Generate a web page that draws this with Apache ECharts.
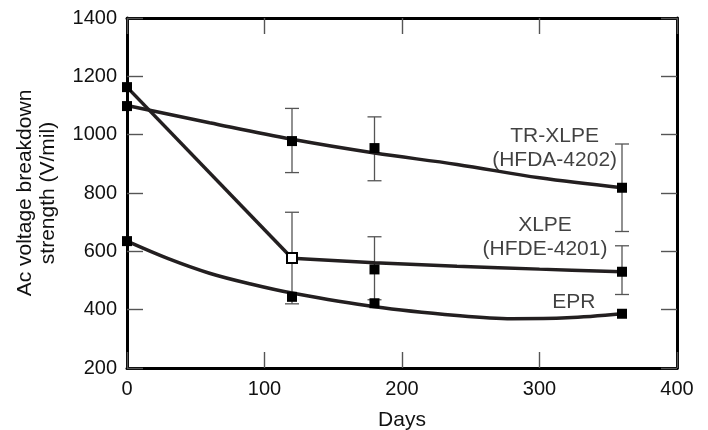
<!DOCTYPE html>
<html>
<head>
<meta charset="utf-8">
<script src="https://cdn.jsdelivr.net/npm/echarts@6/dist/echarts.min.js"></script>
<style>
html,body{margin:0;padding:0;background:#fff;}
#chart{width:708px;height:430px;}
</style>
</head>
<body>
<div id="chart"></div>
<script>
// ---- data ----
var trxlpeMarkers = [[0, 1098], [120, 978], [180, 954], [360, 818]];
var trxlpeCurve = [[0, 1100], [60, 1041], [120, 984], [180, 937], [240, 898], [300, 852], [360, 818]];
var trxlpeErr = [[120, 870, 1090], [180, 842, 1061], [360, 668, 968]];

var xlpeMarkers = [[0, 1163], [180, 538], [360, 530]];
var xlpeOpen = [[120, 577]];
var xlpeDrop = [[0, 1163], [120, 576]];
var xlpeCurve = [[120, 576], [180, 561], [240, 549], [300, 539], [360, 530]];
var xlpeErr = [[120, 420, 734], [180, 434, 650], [360, 452, 619]];

var eprMarkers = [[0, 635], [120, 444], [180, 422], [360, 386]];
var eprCurve = [[0, 635], [30, 575], [60, 525], [90, 488], [120, 457], [180, 410], [240, 380], [280, 369], [320, 372], [360, 386]];

var seriesLabels = [
  {text: 'TR-XLPE\n(HFDA-4202)', at: [311, 955]},
  {text: 'XLPE\n(HFDE-4201)', at: [304, 647]},
  {text: 'EPR', at: [325, 424]}
];

var xTicks = [0, 100, 200, 300, 400];
var yTicks = [200, 400, 600, 800, 1000, 1200, 1400];

// ---- chart ----
var FONT = 'Liberation Sans, Arial, Helvetica, sans-serif';
var chart = echarts.init(document.getElementById('chart'), null, {renderer: 'canvas'});

function errSeries(data) {
  return {
    type: 'custom',
    data: data,
    z: 2,
    renderItem: function (params, api) {
      var x = api.value(0);
      var lo = api.coord([x, api.value(1)]);
      var hi = api.coord([x, api.value(2)]);
      var hw = 7;
      var st = {stroke: '#555', lineWidth: 1.3};
      return {
        type: 'group',
        children: [
          {type: 'line', shape: {x1: lo[0], y1: lo[1], x2: hi[0], y2: hi[1]}, style: st},
          {type: 'line', shape: {x1: lo[0] - hw, y1: lo[1], x2: lo[0] + hw, y2: lo[1]}, style: st},
          {type: 'line', shape: {x1: hi[0] - hw, y1: hi[1], x2: hi[0] + hw, y2: hi[1]}, style: st}
        ]
      };
    }
  };
}

function curve(data, smooth) {
  return {
    type: 'line', data: data, smooth: smooth, symbol: 'none', z: 3,
    lineStyle: {color: '#231f20', width: 3.5}
  };
}

function markers(data, fill) {
  return {
    type: 'scatter', data: data, symbol: 'rect', symbolSize: 10, z: 5,
    itemStyle: {color: fill, borderColor: '#000', borderWidth: fill === '#fff' ? 2 : 0, opacity: 1}
  };
}

function plain(v) { return String(v); }

var axisCommon = {
  axisLine: {show: true, onZero: false, lineStyle: {color: '#000', width: 3}},
  axisTick: {show: true, inside: true, length: 16, lineStyle: {color: '#555', width: 1.4}},
  splitLine: {show: false}
};

var option = {
  animation: false,
  backgroundColor: '#fff',
  grid: {left: 127, right: 31, top: 18, bottom: 62, show: false, outerBoundsMode: 'none', containLabel: false},
  xAxis: [
    Object.assign({
      type: 'value', min: xTicks[0], max: xTicks[xTicks.length - 1], interval: 100, position: 'bottom',
      name: 'Days', nameLocation: 'middle', nameGap: 42,
      nameTextStyle: {fontFamily: FONT, fontSize: 21, color: '#111'},
      axisLabel: {fontFamily: FONT, fontSize: 20, color: '#111', margin: 11, formatter: plain}
    }, axisCommon),
    Object.assign({
      type: 'value', min: xTicks[0], max: xTicks[xTicks.length - 1], interval: 100, position: 'top',
      axisLabel: {show: false}
    }, axisCommon)
  ],
  yAxis: [
    Object.assign({
      type: 'value', min: yTicks[0], max: yTicks[yTicks.length - 1], interval: 200, position: 'left',
      name: 'Ac voltage breakdown\nstrength (V/mil)', nameLocation: 'middle', nameGap: 67,
      nameTextStyle: {fontFamily: FONT, fontSize: 21, color: '#111', lineHeight: 23},
      axisLabel: {fontFamily: FONT, fontSize: 20, color: '#111', margin: 10, formatter: plain}
    }, axisCommon),
    Object.assign({
      type: 'value', min: yTicks[0], max: yTicks[yTicks.length - 1], interval: 200, position: 'right',
      axisLabel: {show: false}
    }, axisCommon)
  ],
  series: [
    errSeries(trxlpeErr),
    errSeries(xlpeErr),
    curve(trxlpeCurve, 0.35),
    curve(xlpeDrop, false),
    curve(xlpeCurve, 0.35),
    curve(eprCurve, 0.35),
    markers(trxlpeMarkers, '#000'),
    markers(xlpeMarkers, '#000'),
    markers(eprMarkers, '#000'),
    markers(xlpeOpen, '#fff'),
    {
      type: 'scatter', symbolSize: 0, z: 6, silent: true,
      data: seriesLabels.map(function (d) { return {value: d.at, name: d.text}; }),
      label: {
        show: true, position: 'inside', formatter: function (p) { return p.name; },
        fontFamily: FONT, fontSize: 21, color: '#111', lineHeight: 24, align: 'center', verticalAlign: 'middle'
      }
    }
  ]
};
chart.setOption(option);
</script>
</body>
</html>
